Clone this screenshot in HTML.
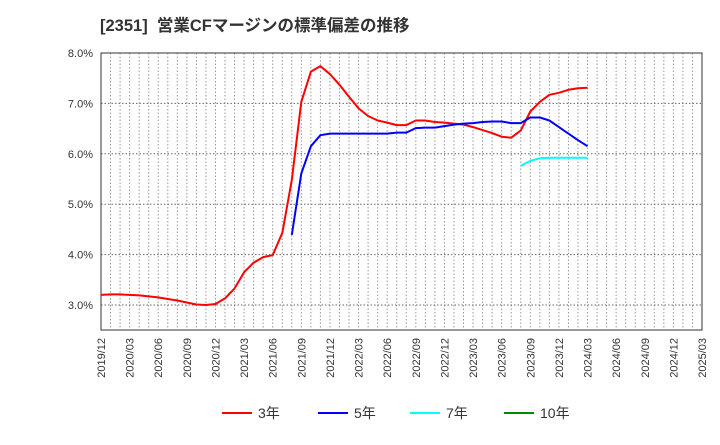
<!DOCTYPE html>
<html><head><meta charset="utf-8"><style>
body{margin:0;background:#fff;font-family:"Liberation Sans","Noto Sans CJK JP",sans-serif;}
</style></head><body>
<svg width="720" height="440" xmlns="http://www.w3.org/2000/svg" font-family="Liberation Sans, Noto Sans CJK JP, sans-serif">
<text x="100" y="31" font-size="16.5" font-weight="bold" fill="#333" style="white-space:pre">[2351]  営業CFマージンの標準偏差の推移</text>
<g id="grid"></g>
<g id="axes"></g>
<g id="series"></g>
<g id="legend"></g>
</svg>
<script>
const xLabels=["2019/12","2020/03","2020/06","2020/09","2020/12","2021/03","2021/06","2021/09","2021/12","2022/03","2022/06","2022/09","2022/12","2023/03","2023/06","2023/09","2023/12","2024/03","2024/06","2024/09","2024/12","2025/03"];
const yTicks=[3.0,4.0,5.0,6.0,7.0,8.0];
const s3=[3.20,3.21,3.21,3.20,3.19,3.17,3.15,3.12,3.09,3.05,3.01,3.00,3.02,3.13,3.33,3.65,3.84,3.95,3.99,4.43,5.48,7.03,7.63,7.74,7.58,7.37,7.13,6.90,6.75,6.66,6.62,6.57,6.57,6.66,6.66,6.63,6.62,6.60,6.58,6.53,6.47,6.41,6.34,6.32,6.46,6.84,7.03,7.17,7.21,7.27,7.30,7.31];
const s5=[4.39,5.61,6.15,6.37,6.40,6.40,6.40,6.40,6.40,6.40,6.40,6.42,6.42,6.51,6.52,6.52,6.55,6.58,6.60,6.61,6.63,6.64,6.64,6.61,6.61,6.72,6.72,6.66,6.53,6.40,6.27,6.15];
const s5Start=20;
const s7=[5.76,5.86,5.91,5.92,5.92,5.92,5.92,5.92];
const s7Start=44;
const NS="http://www.w3.org/2000/svg";
const L=101,R=702,T=53,B=330,months=63;
const xs=i=>L+(R-L)*i/months;
const ys=v=>T+(8-v)*50.4;
function mk(tag,attrs,parent){const e=document.createElementNS(NS,tag);for(const k in attrs)e.setAttribute(k,attrs[k]);parent.appendChild(e);return e;}
const grid=document.getElementById('grid'),axes=document.getElementById('axes'),series=document.getElementById('series'),legend=document.getElementById('legend');
for(let i=1;i<months;i++){const l=mk('line',{x1:xs(i),x2:xs(i),y1:T,y2:B,stroke:'#999','stroke-dasharray':'1.5,2','stroke-width':1},grid);}
yTicks.forEach(v=>{const l=mk('line',{x1:L,x2:R,y1:ys(v),y2:ys(v),stroke:'#666','stroke-dasharray':'1.5,2','stroke-width':1},grid);
const t=mk('text',{x:93,y:ys(v)+4,'font-size':11,'text-anchor':'end',fill:'#333'},axes);t.textContent=v.toFixed(1)+'%';});
const fr=mk('rect',{x:L,y:T,width:R-L,height:B-T,fill:'none',stroke:'#333','stroke-width':1},axes);
xLabels.forEach((s,i)=>{const x=xs(i*3);const t=mk('text',{x:0,y:0,'font-size':11,'text-anchor':'end',fill:'#333',transform:`translate(${x+4},338) rotate(-90)`},axes);t.textContent=s;});
function line(arr,start,color,name){const p=arr.map((v,i)=>xs(start+i).toFixed(1)+','+ys(v).toFixed(1)).join(' ');const e=mk('polyline',{points:p,fill:'none',stroke:color,'stroke-width':2,'stroke-linejoin':'round'},series);}
line(s3,0,'#f00','line-3yr');line(s5,s5Start,'#00f','line-5yr');line(s7,s7Start,'#0ff','line-7yr');
[['3年','#f00',222],['5年','#00f',318],['7年','#0ff',410],['10年','#080',504]].forEach(([n,c,x])=>{const g=mk('g',{},legend);
mk('line',{x1:x,x2:x+30,y1:413,y2:413,stroke:c,'stroke-width':2},g);const t=mk('text',{x:x+36,y:418,'font-size':14,fill:'#333'},g);t.textContent=n;});
</script>
</body></html>
